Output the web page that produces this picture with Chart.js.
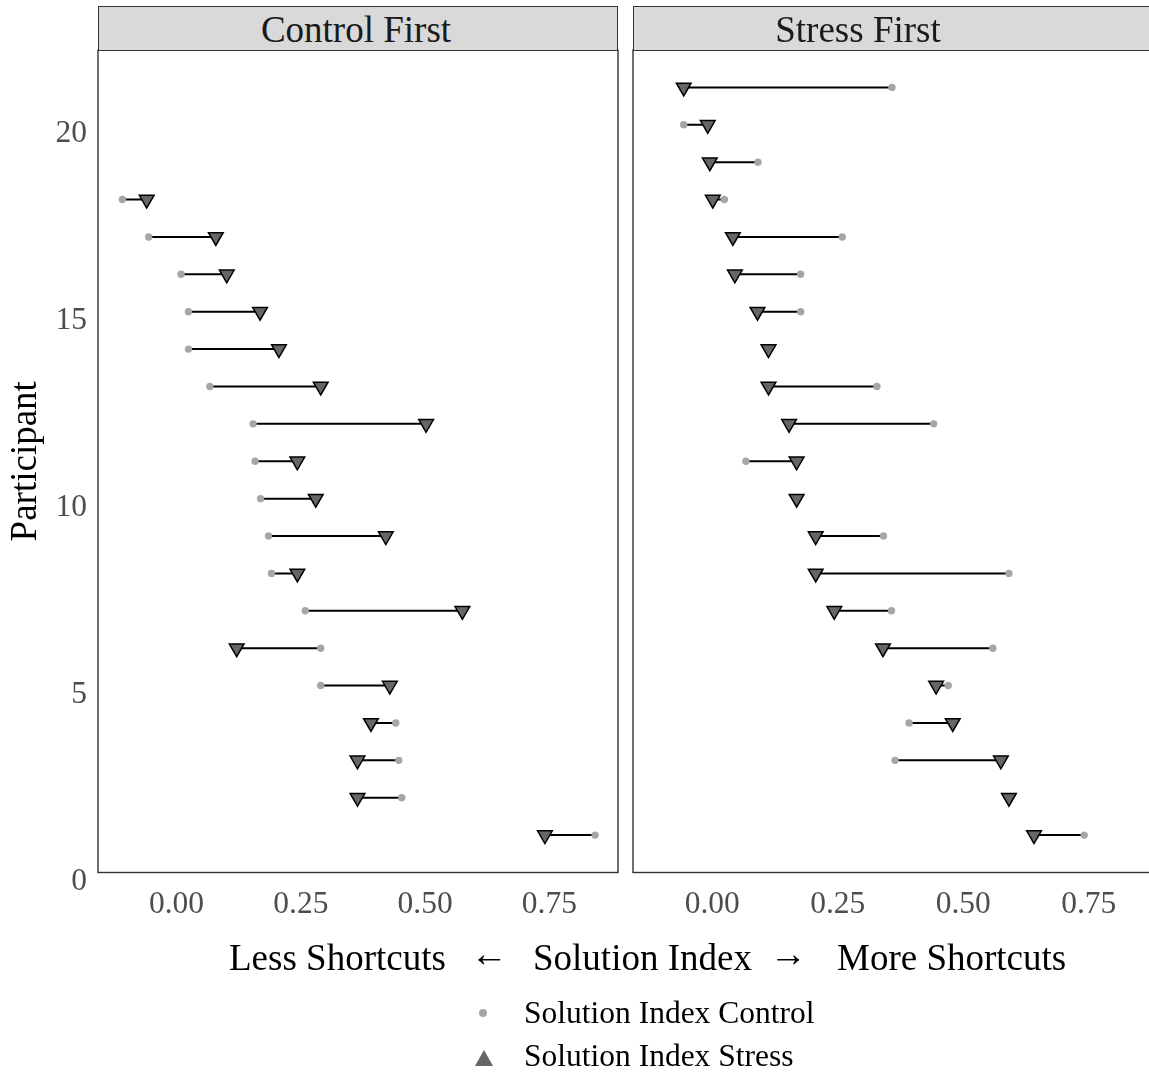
<!DOCTYPE html>
<html>
<head>
<meta charset="utf-8">
<script src="https://cdn.jsdelivr.net/npm/chart.js@4.4.1/dist/chart.umd.min.js"></script>
<style>
  html, body { margin: 0; padding: 0; background: #fff; }
  body { width: 1149px; height: 1072px; overflow: hidden; position: relative;
         font-family: 'Liberation Serif', 'Times New Roman', serif; }
  canvas { position: absolute; top: 0; }
  .strip { position: absolute; top: 6px; height: 45px; width: 520px; box-sizing: border-box;
           background: #d9d9d9; border: 1.4px solid #333; }
  .lbl { position: absolute; white-space: pre; line-height: 1; }
  .strip-text { font-size: 37px; color: #1a1a1a; top: 11px; transform: translateX(-50%); }
  .xtitle { font-size: 37px; color: #000; top: 939px; }
  .arrow { transform: translateX(-50%); top: 935px; }
  .legend { font-size: 31.5px; color: #000; left: 524px; }
  svg { position: absolute; left: 0; top: 0; }
</style>
</head>
<body>
<!-- chart area of each canvas is inset 10px by Chart.js point overflow padding -->
<canvas id="left" width="628" height="940" style="left:0"></canvas>
<canvas id="right" width="545" height="940" style="left:623px"></canvas>

<div class="strip" style="left:98px"></div>
<div class="strip" style="left:633px"></div>
<span class="lbl strip-text" style="left:356px">Control First</span>
<span class="lbl strip-text" style="left:858px">Stress First</span>

<span class="lbl xtitle" style="left:229px">Less Shortcuts</span>
<span class="lbl xtitle arrow" style="left:489px">←</span>
<span class="lbl xtitle" style="left:533px">Solution Index</span>
<span class="lbl xtitle arrow" style="left:788px">→</span>
<span class="lbl xtitle" style="left:837px">More Shortcuts</span>

<svg width="1149" height="1072">
  <circle cx="483" cy="1013" r="4" fill="#a6a6a6"/>
  <polygon points="475,1066 493,1066 484,1050" fill="#666666"/>
</svg>
<span class="lbl legend" style="top:997px">Solution Index Control</span>
<span class="lbl legend" style="top:1040px">Solution Index Stress</span>

<script>
// axis ticks and ranges
const xTicks = [0, 0.25, 0.5, 0.75];
const yTicks = [0, 5, 10, 15, 20];
const xRange = [-0.158, 0.888];
const yRange = [0, 22];

// Control First panel, participants ranked 1..18 from the bottom
const ctrlFirstControl = [0.842, 0.453, 0.447, 0.441, 0.290, 0.290, 0.259, 0.191, 0.185, 0.169,
                          0.158, 0.154, 0.067, 0.024, 0.024, 0.009, -0.056, -0.109];
const ctrlFirstStress  = [0.741, 0.364, 0.364, 0.391, 0.429, 0.121, 0.575, 0.243, 0.421, 0.280,
                          0.243, 0.502, 0.290, 0.206, 0.168, 0.101, 0.079, -0.060];

// Stress First panel, participants ranked 1..21 from the bottom
const stressFirstControl = [0.741, 0.591, 0.364, 0.392, 0.470, 0.559, 0.357, 0.591, 0.341, 0.168,
                            0.067, 0.441, 0.328, 0.112, 0.176, 0.176, 0.259, 0.024, 0.091, -0.057, 0.358];
const stressFirstStress  = [0.641, 0.591, 0.575, 0.479, 0.446, 0.340, 0.243, 0.206, 0.206, 0.168,
                            0.168, 0.153, 0.112, 0.112, 0.090, 0.045, 0.041, 0.001, -0.005, -0.009, -0.057];

const serif = "'Liberation Serif', 'Times New Roman', serif";
const PANEL_BOTTOM = 872.5;

const panelBorder = {
    id: 'panelBorder',
    afterDraw(chart) {
        const {ctx, chartArea: a} = chart;
        ctx.save();
        ctx.strokeStyle = '#333';
        ctx.lineWidth = 1.4;
        ctx.strokeRect(a.left, a.top, a.right - a.left, a.bottom - a.top);
        ctx.restore();
    }
};

function makePanel(id, control, stress, showY) {
    const canvas = document.getElementById(id);
    const segments = [];
    control.forEach((c, i) => {
        segments.push({x: c, y: i + 1}, {x: stress[i], y: i + 1}, {x: null, y: null});
    });

    return new Chart(canvas, {
        type: 'scatter',
        data: {
            datasets: [{
                label: 'segment',
                data: segments,
                showLine: true,
                spanGaps: false,
                borderColor: '#000',
                borderWidth: 2,
                pointRadius: 0,
                order: 3
            }, {
                label: 'Solution Index Control',
                data: control.map((c, i) => ({x: c, y: i + 1})),
                pointStyle: 'circle',
                pointRadius: 3.7,
                pointBackgroundColor: '#a6a6a6',
                pointBorderWidth: 0,
                order: 2
            }, {
                label: 'Solution Index Stress',
                data: stress.map((s, i) => ({x: s, y: i + 1})),
                pointStyle: 'triangle',
                rotation: 180,
                pointRadius: 8.5,
                pointBackgroundColor: '#666666',
                pointBorderColor: '#000',
                pointBorderWidth: 1.5,
                order: 1
            }]
        },
        options: {
            responsive: false,
            animation: false,
            layout: { padding: { top: 50, right: 0, left: 0, bottom: 0 } },
            plugins: { legend: { display: false }, tooltip: { enabled: false } },
            scales: {
                x: {
                    type: 'linear',
                    min: xRange[0], max: xRange[1],
                    grid: { display: false, drawTicks: false },
                    border: { display: false },
                    afterBuildTicks: s => { s.ticks = xTicks.map(v => ({value: v})); },
                    afterFit: s => { s.height = canvas.height - PANEL_BOTTOM; },
                    ticks: {
                        padding: 13,
                        color: '#4d4d4d',
                        font: { family: serif, size: 31.5 },
                        callback: v => v.toFixed(2)
                    }
                },
                y: {
                    type: 'linear',
                    display: showY,
                    min: yRange[0], max: yRange[1],
                    grid: { display: false, drawTicks: false },
                    border: { display: false },
                    afterBuildTicks: s => { s.ticks = yTicks.map(v => ({value: v})); },
                    afterFit: s => { s.width = showY ? 98 : 0; },
                    ticks: {
                        padding: 11,
                        labelOffset: 9,
                        color: '#4d4d4d',
                        font: { family: serif, size: 31.5 }
                    },
                    title: {
                        display: true,
                        text: 'Participant',
                        color: '#000',
                        font: { family: serif, size: 37 },
                        padding: { top: 4, bottom: 0 }
                    }
                }
            }
        },
        plugins: [panelBorder]
    });
}

makePanel('left', ctrlFirstControl, ctrlFirstStress, true);
makePanel('right', stressFirstControl, stressFirstStress, false);
</script>
</body>
</html>
